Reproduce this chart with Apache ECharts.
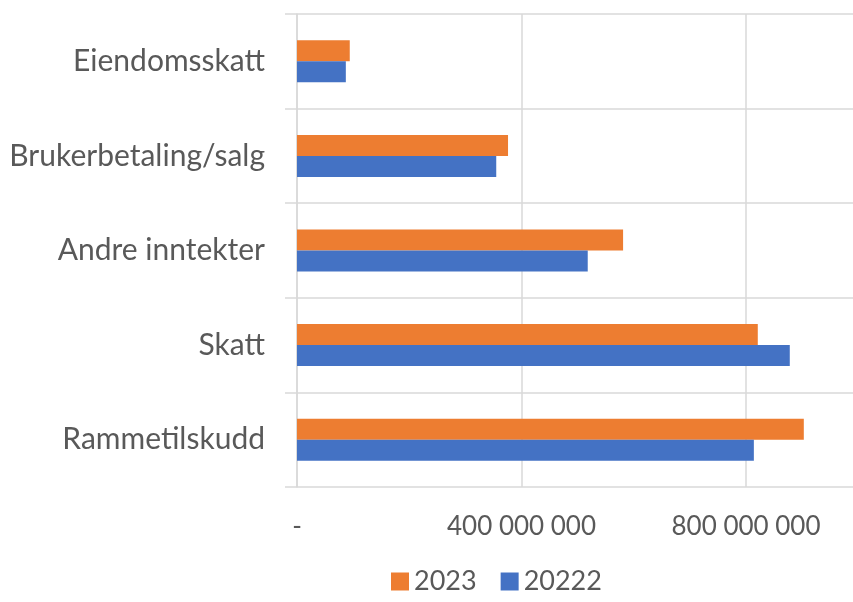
<!DOCTYPE html>
<html>
<head>
<meta charset="utf-8">
<script src="https://cdn.jsdelivr.net/npm/echarts@6/dist/echarts.min.js"></script>
<style>
  html, body { margin: 0; padding: 0; background: #fff; overflow: hidden; }
  /* plottet er kuttet i høyre kant i originalen, så diagrammet er bredere enn vinduet */
  #chart { width: 980px; height: 602px; }
</style>
</head>
<body>
<div id="chart"></div>
<script>
// kategorier, nederst først (ECharts tegner første kategori nederst)
const categories = ['Rammetilskudd', 'Skatt', 'Andre inntekter', 'Brukerbetaling/salg', 'Eiendomsskatt']
const values2023 = [903000000, 821000000, 581000000, 376000000, 94000000]
const values20222 = [814000000, 878000000, 518000000, 355000000, 87000000]
const seriesNames = ['2023', '20222']

const textColor = '#595959'
const lineColor = '#D9D9D9'
const fontFamily = 'Lato, "Open Sans", sans-serif'

// 400 000 000, null vises som "-"
const fmt = function (v) {
  if (v === 0) return '-'
  return String(v).replace(/\B(?=(\d{3})+(?!\d))/g, ' ')
}

const chart = echarts.init(document.getElementById('chart'))
chart.setOption({
  animation: false,
  textStyle: { fontFamily: fontFamily },
  grid: {
    left: 297,
    width: 673.5,
    top: 14,
    bottom: 115,
    containLabel: false,
    outerBoundsMode: 'none'
  },
  legend: {
    data: seriesNames,
    bottom: 2,
    left: 386,
    itemWidth: 18,
    itemHeight: 18,
    itemGap: 24,
    icon: 'rect',
    textStyle: { color: textColor, fontSize: 27, fontFamily: fontFamily }
  },
  xAxis: {
    type: 'value',
    min: 0,
    max: 1200000000,
    interval: 400000000,
    axisLine: { show: false },
    axisTick: { show: false },
    splitLine: { lineStyle: { color: lineColor, width: 1.5 } },
    axisLabel: {
      color: textColor,
      fontSize: 26,
      margin: 27,
      showMaxLabel: false,
      formatter: fmt
    }
  },
  yAxis: {
    type: 'category',
    data: categories,
    axisLine: { show: true, lineStyle: { color: lineColor, width: 1.5 } },
    axisTick: { show: true, length: 12, lineStyle: { color: lineColor, width: 1.5 } },
    splitLine: { show: true, lineStyle: { color: lineColor, width: 1.5 } },
    axisLabel: { color: textColor, fontSize: 30, margin: 32 }
  },
  series: [
    {
      name: '2023',
      type: 'bar',
      data: values2023,
      barWidth: 21,
      barGap: '0%',
      itemStyle: { color: '#ED7D31' }
    },
    {
      name: '20222',
      type: 'bar',
      data: values20222,
      barWidth: 21,
      barGap: '0%',
      itemStyle: { color: '#4472C4' }
    }
  ]
})
</script>
</body>
</html>
